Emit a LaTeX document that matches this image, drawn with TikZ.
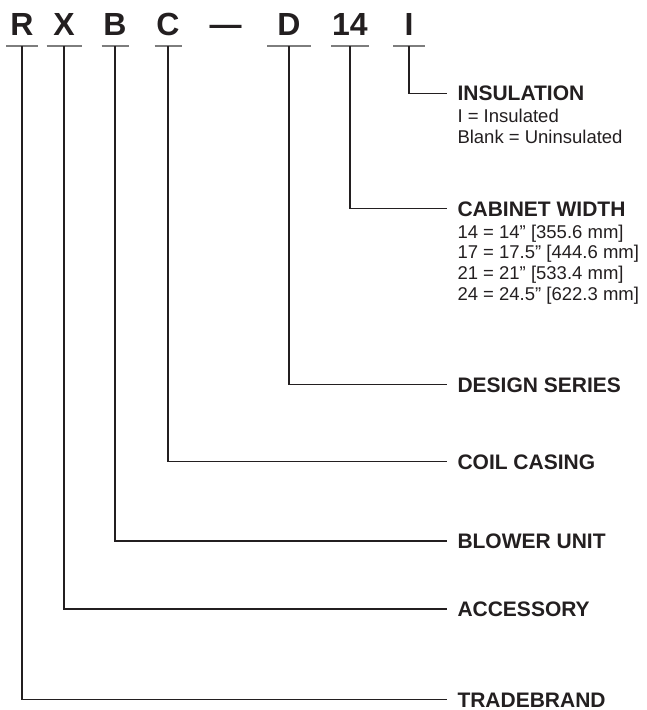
\documentclass[tikz,border=0pt]{standalone}
\usepackage{fontspec}
\setmainfont{Liberation Sans}
\definecolor{InkColor}{RGB}{35,31,32}
\definecolor{RuleColor}{RGB}{125,125,125}
\usepackage{tikz}
\usetikzlibrary{positioning, calc}
\tikzstyle{code} = [anchor=base, inner xsep=0pt, inner ysep=11pt, outer sep=0pt, text height=23pt, text depth=0pt, text=InkColor, font=\bfseries\fontsize{32}{36}\selectfont]
\tikzstyle{uline} = [RuleColor, line width=1.2pt]
\tikzstyle{lead} = [InkColor, line width=1.2pt]
\tikzstyle{heading} = [anchor=west, inner xsep=10.5pt, inner ysep=0pt, outer sep=0pt, text height=15pt, text depth=0pt, text=InkColor, font=\bfseries\fontsize{21}{24}\selectfont]
\tikzstyle{detail} = [anchor=base west, inner xsep=10.5pt, inner ysep=0pt, outer sep=0pt, text=InkColor, font=\fontsize{18.5}{21}\selectfont]

\begin{document}
\begin{tikzpicture}[x=1pt, y=-1pt]
    \useasboundingbox (0,0) rectangle (647,710);

    % model number
    \node[code, minimum width=32pt] (r) at (22,35) {R};
    \node[code, minimum width=35pt] (x) at (64,35) {X};
    \node[code, minimum width=27pt] (b) at (115,35) {B};
    \node[code, minimum width=27pt] (c) at (168,35) {C};
    \node[code] (dash) at (225.5,35) {---};
    \node[code, minimum width=44pt] (d) at (289,35) {D};
    \node[code, minimum width=38pt] (w) at (350,35) {14};
    \node[code, minimum width=32pt] (i) at (409,35) {I};

    \foreach \n in {r, x, b, c, d, w, i} {
        \draw[uline] (\n.south west) -- (\n.south east);
    }

    % labels
    \node[heading] (ins) at (447,93.3) {INSULATION};
    \node[detail] (ins1) at ([yshift=-21.5pt]ins.base west) {I = Insulated};
    \node[detail] (ins2) at ([yshift=-20.8pt]ins1.base west) {Blank = Uninsulated};

    \node[heading] (cab) at (447,208.8) {CABINET WIDTH};
    \node[detail] (cab1) at ([yshift=-21.8pt]cab.base west) {14 = 14'' [355.6 mm]};
    \node[detail] (cab2) at ([yshift=-20.8pt]cab1.base west) {17 = 17.5'' [444.6 mm]};
    \node[detail] (cab3) at ([yshift=-20.8pt]cab2.base west) {21 = 21'' [533.4 mm]};
    \node[detail] (cab4) at ([yshift=-20.8pt]cab3.base west) {24 = 24.5'' [622.3 mm]};

    \node[heading] (des) at (447,384.8) {DESIGN SERIES};
    \node[heading] (coil) at (447,461.5) {COIL CASING};
    \node[heading] (blow) at (447,541) {BLOWER UNIT};
    \node[heading] (acc) at (447,609) {ACCESSORY};
    \node[heading] (brand) at (447,699.5) {TRADEBRAND};

    % leaders
    \draw[lead] (i.south) |- (ins.west);
    \draw[lead] (w.south) |- (cab.west);
    \draw[lead] (d.south) |- (des.west);
    \draw[lead] (c.south) |- (coil.west);
    \draw[lead] (b.south) |- (blow.west);
    \draw[lead] (x.south) |- (acc.west);
    \draw[lead] (r.south) |- (brand.west);
\end{tikzpicture}
\end{document}
